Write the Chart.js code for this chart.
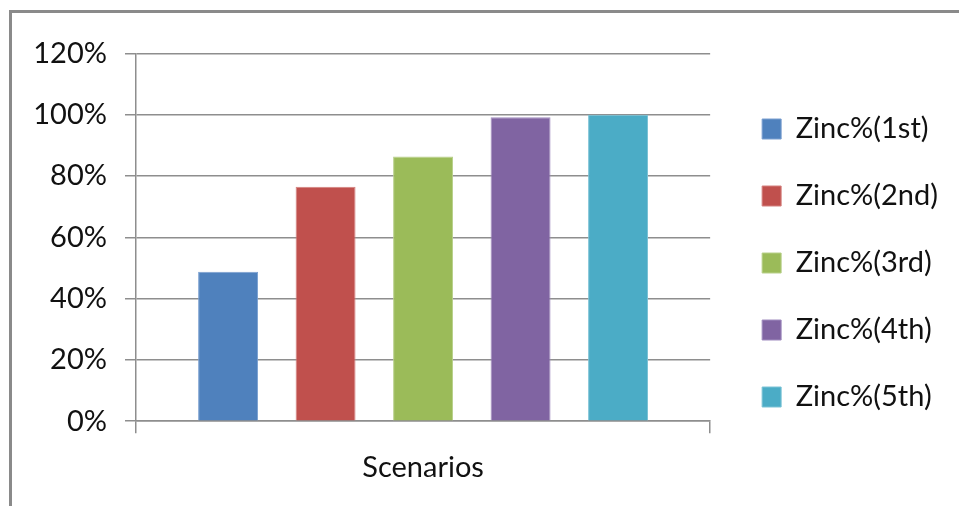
<!DOCTYPE html>
<html>
<head>
<meta charset="utf-8">
<script src="https://cdn.jsdelivr.net/npm/chart.js@4/dist/chart.umd.min.js"></script>
<style>
  html, body { margin: 0; padding: 0; background: #fff; overflow: hidden; }
  body { width: 959px; height: 506px; position: relative; }
  #frame { position: absolute; left: 9px; top: 10px; width: 960px; height: 510px;
           border-left: 3px solid #8a8a8a; border-top: 3px solid #8a8a8a; box-sizing: border-box; }
  #wrap { position: absolute; left: 0; top: 18px; width: 959px; height: 484px; }
</style>
</head>
<body>
<div id="frame"></div>
<div id="wrap"><canvas id="c"></canvas></div>
<script>
const categories = ['Scenarios'];
const seriesNames = ['Zinc%(1st)', 'Zinc%(2nd)', 'Zinc%(3rd)', 'Zinc%(4th)', 'Zinc%(5th)'];
const seriesValues = [48.8, 76.5, 86.4, 99.2, 100];
const seriesColors = ['#4F81BD', '#C0504D', '#9BBB59', '#8064A2', '#4BACC6'];
const seriesEdges = ['#7a9fd0', '#d4807e', '#b8d08a', '#a08cbf', '#7cc3d6'];
const yTicks = [0, 20, 40, 60, 80, 100, 120];

const axisColor = '#8e8e8e';
const font = { family: 'Lato', size: 29 };

const datasets = seriesNames.map((name, i) => ({
  label: name,
  data: [seriesValues[i]],
  backgroundColor: seriesColors[i],
  borderColor: seriesEdges[i],
  borderWidth: 1,
  categoryPercentage: 0.849,
  barPercentage: 0.615
}));

new Chart(document.getElementById('c'), {
  type: 'bar',
  data: { labels: categories, datasets },
  options: {
    responsive: true,
    maintainAspectRatio: false,
    animation: false,
    layout: { padding: { top: 6, left: 0, right: 11, bottom: 0 } },
    plugins: {
      tooltip: { enabled: false },
      legend: {
        position: 'right',
        align: 'center',
        maxWidth: 235,
        labels: {
          boxWidth: 19,
          boxHeight: 20,
          padding: 38,
          font,
          color: '#111'
        }
      }
    },
    scales: {
      x: {
        grid: { display: true, drawOnChartArea: false, drawTicks: true, tickLength: 12, color: axisColor, lineWidth: 1.5 },
        border: { display: true, color: axisColor, width: 1.5 },
        ticks: { font, color: '#111', padding: 17 }
      },
      y: {
        min: yTicks[0],
        max: yTicks[yTicks.length - 1],
        afterBuildTicks: (s) => { s.ticks = yTicks.map(v => ({ value: v })); },
        afterFit: (s) => { s.width = 136; },
        grid: { color: axisColor, lineWidth: 1.5, tickLength: 11, drawTicks: true },
        border: { display: true, color: axisColor, width: 1.5 },
        ticks: { font, color: '#111', padding: 18, callback: (v) => v + '%' }
      },
      gap: {
        position: 'right',
        display: true,
        grid: { display: false },
        border: { display: false },
        ticks: { display: false },
        afterFit: (s) => { s.width = 14; }
      }
    }
  }
});
</script>
</body>
</html>
